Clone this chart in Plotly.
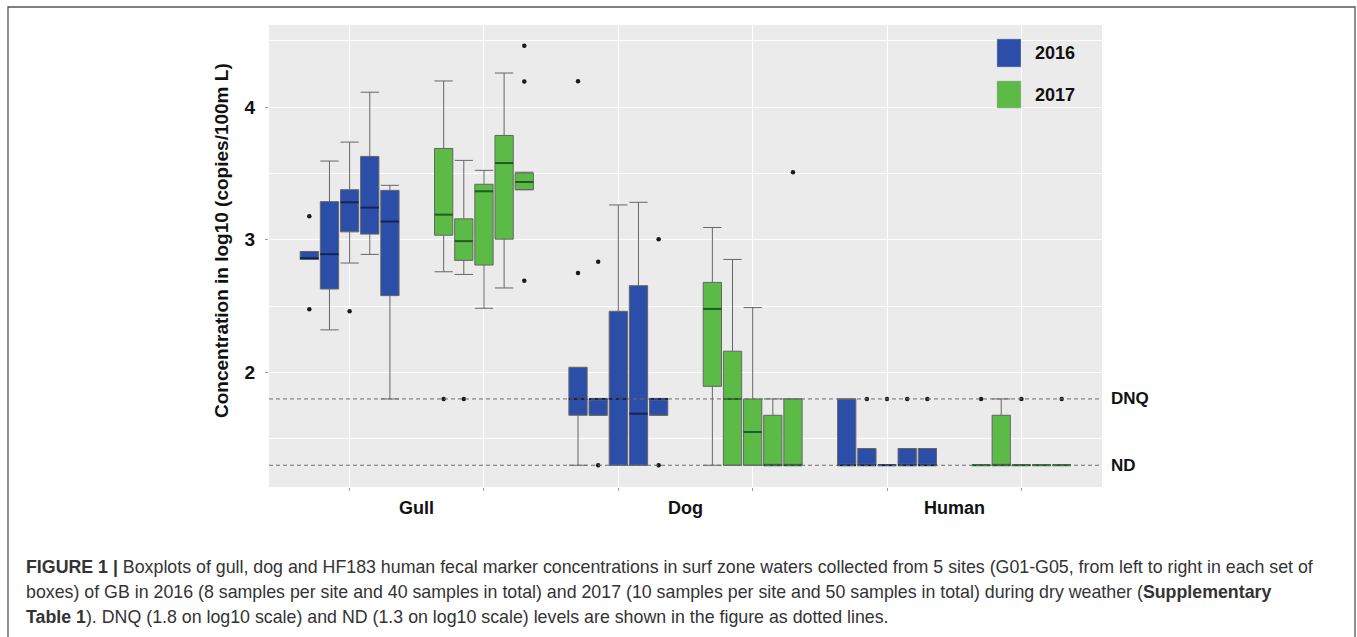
import plotly.graph_objects as go

# ---------------- data ----------------
markers = ["Gull", "Dog", "Human"]
years = ["2016", "2017"]
sites = ["G01", "G02", "G03", "G04", "G05"]

# order of 15 entries: Gull G01..G05, Dog G01..G05, Human G01..G05
lo_2016 = [2.852, 2.321, 2.825, 2.890, 1.800,
           1.300, 1.677, 1.300, 1.300, 1.677,
           1.300, 1.300, 1.300, 1.300, 1.300]
q1_2016 = [2.852, 2.629, 3.060, 3.043, 2.579,
           1.677, 1.677, 1.300, 1.300, 1.677,
           1.300, 1.300, 1.300, 1.300, 1.300]
med_2016 = [2.862, 2.892, 3.283, 3.243, 3.138,
            1.800, 1.800, 1.800, 1.689, 1.800,
            1.300, 1.300, 1.300, 1.300, 1.300]
q3_2016 = [2.912, 3.288, 3.378, 3.629, 3.373,
           2.038, 1.800, 2.461, 2.654, 1.800,
           1.800, 1.426, 1.300, 1.426, 1.426]
hi_2016 = [2.912, 3.594, 3.737, 4.113, 3.411,
           2.038, 1.800, 3.263, 3.283, 1.800,
           1.800, 1.426, 1.300, 1.426, 1.426]
out_2016_idx = [0, 0, 2, 5, 5, 6, 6, 9, 9, 11, 12, 13, 14]
out_2016_val = [3.178, 2.476, 2.461, 4.195, 2.749, 2.835, 1.300, 3.005, 1.300,
                1.800, 1.800, 1.800, 1.800]

lo_2017 = [2.759, 2.739, 2.484, 2.637, 3.378,
           1.300, 1.300, 1.300, 1.300, 1.300,
           1.300, 1.300, 1.300, 1.300, 1.300]
q1_2017 = [3.035, 2.845, 2.810, 3.005, 3.378,
           1.895, 1.300, 1.300, 1.300, 1.300,
           1.300, 1.300, 1.300, 1.300, 1.300]
med_2017 = [3.190, 2.990, 3.366, 3.579, 3.436,
            2.479, 1.800, 1.551, 1.300, 1.300,
            1.300, 1.300, 1.300, 1.300, 1.300]
q3_2017 = [3.689, 3.158, 3.419, 3.787, 3.504,
           2.679, 2.160, 1.800, 1.677, 1.800,
           1.300, 1.677, 1.300, 1.300, 1.300]
hi_2017 = [4.198, 3.599, 3.524, 4.258, 3.510,
           3.093, 2.852, 2.489, 1.800, 1.800,
           1.300, 1.800, 1.300, 1.300, 1.300]
out_2017_idx = [0, 1, 4, 4, 4, 9, 10, 12, 14]
out_2017_val = [1.800, 1.800, 4.464, 4.193, 2.692, 3.509, 1.800, 1.800, 1.800]

dnq_level = 1.8
nd_level = 1.3

caption_lines = [
    "<b>FIGURE 1 |</b> Boxplots of gull, dog and HF183 human fecal marker concentrations in surf zone waters collected from 5 sites (G01-G05, from left to right in each set of",
    "boxes) of GB in 2016 (8 samples per site and 40 samples in total) and 2017 (10 samples per site and 50 samples in total) during dry weather (<b>Supplementary</b>",
    "<b>Table 1</b>). DNQ (1.8 on log10 scale) and ND (1.3 on log10 scale) levels are shown in the figure as dotted lines.",
]

# ---------------- styling ----------------
W, H = 1357, 637
ML, MR, MT, MB = 269, 255, 25, 150
PW, PH = W - ML - MR, H - MT - MB
FONT = "Liberation Sans, Arial, sans-serif"
fill_col = {"2016": "#2B4FA8", "2017": "#5CBB46"}
med_col = {"2016": "#13245A", "2017": "#1E5E22"}
SITE_STEP = 0.15
BOX_W = 0.136


def px_x(px):
    return (px - ML) / PW


def px_y(py):
    return (H - MB - py) / PH


def position(k, year_idx):
    marker_idx, site_idx = divmod(k, len(sites))
    return marker_idx * 2 + year_idx + (site_idx - 2) * SITE_STEP


fig = go.Figure()

stats = {
    "2016": (lo_2016, q1_2016, med_2016, q3_2016, hi_2016, out_2016_idx, out_2016_val),
    "2017": (lo_2017, q1_2017, med_2017, q3_2017, hi_2017, out_2017_idx, out_2017_val),
}

for yi, yr in enumerate(years):
    lo, q1, med, q3, hi, oidx, oval = stats[yr]
    xs = [position(k, yi) for k in range(len(q1))]
    fig.add_trace(go.Box(
        x=xs, q1=q1, median=med, q3=q3, lowerfence=lo, upperfence=hi,
        width=BOX_W, whiskerwidth=1, boxpoints=False,
        fillcolor=fill_col[yr], line=dict(color="#666666", width=1),
        name=yr, showlegend=False, hoverinfo="skip",
    ))
    mx, my = [], []
    for x, m in zip(xs, med):
        mx += [x - BOX_W / 2, x + BOX_W / 2, None]
        my += [m, m, None]
    fig.add_trace(go.Scatter(
        x=mx, y=my, mode="lines", line=dict(color=med_col[yr], width=2),
        showlegend=False, hoverinfo="skip",
    ))
    fig.add_trace(go.Scatter(
        x=[position(k, yi) for k in oidx], y=oval, mode="markers",
        marker=dict(color="#1a1a1a", size=4.5),
        showlegend=False, hoverinfo="skip",
    ))

shapes = []
annotations = []
for lvl, lab in [(dnq_level, "DNQ"), (nd_level, "ND")]:
    shapes.append(dict(type="line", xref="paper", yref="y", x0=0, x1=1, y0=lvl, y1=lvl,
                       line=dict(color="#6e6e6e", width=1, dash="4px,3px"), layer="above"))
    annotations.append(dict(xref="paper", yref="y", x=px_x(1109), y=lvl, text="<b>%s</b>" % lab,
                            showarrow=False, xanchor="left", yanchor="middle",
                            font=dict(family=FONT, size=17, color="#111")))

# group labels
for mi, m in enumerate(markers):
    annotations.append(dict(xref="x", yref="paper", x=mi * 2 + 0.5, y=px_y(508), text="<b>%s</b>" % m,
                            showarrow=False, xanchor="center", yanchor="middle",
                            font=dict(family=FONT, size=18, color="#111")))

# y axis title
annotations.append(dict(xref="paper", yref="paper", x=px_x(221), y=px_y(241),
                        text="<b>Concentration in log10 (copies/100m L)</b>", textangle=-90,
                        showarrow=False, xanchor="center", yanchor="middle",
                        font=dict(family=FONT, size=19, color="#111")))

# legend (custom keys)
for yr, (top, bot) in zip(years, [(39, 67), (81, 108)]):
    shapes.append(dict(type="rect", xref="paper", yref="paper",
                       x0=px_x(997), x1=px_x(1021), y0=px_y(bot), y1=px_y(top),
                       fillcolor=fill_col[yr], line=dict(color="#b0b0b0", width=0.5)))
    annotations.append(dict(xref="paper", yref="paper", x=px_x(1033), y=px_y((top + bot) / 2),
                            text="<b>%s</b>" % yr, showarrow=False, xanchor="left", yanchor="middle",
                            font=dict(family=FONT, size=18, color="#111")))

# caption
for i, line in enumerate(caption_lines):
    annotations.append(dict(xref="paper", yref="paper", x=px_x(24), y=px_y(567 + i * 25),
                            text=line, showarrow=False, xanchor="left", yanchor="middle",
                            font=dict(family=FONT, size=17.8, color="#333333")))

# outer frame
shapes.append(dict(type="rect", xref="paper", yref="paper",
                   x0=px_x(8), x1=px_x(1355), y0=px_y(645), y1=px_y(7),
                   line=dict(color="#555", width=1.3), fillcolor="rgba(0,0,0,0)", layer="below"))

fig.update_layout(
    width=W, height=H,
    margin=dict(l=ML, r=MR, t=MT, b=MB, pad=0),
    paper_bgcolor="white", plot_bgcolor="#EBEBEB",
    font=dict(family=FONT, color="#111"),
    shapes=shapes, annotations=annotations,
    showlegend=False,
    xaxis=dict(range=[-0.6, 5.6], tickmode="array", tickvals=list(range(6)),
               ticktext=[""] * 6, ticks="outside", ticklen=3, tickcolor="#999",
               showgrid=True, gridcolor="white", gridwidth=1, zeroline=False, showline=False),
    yaxis=dict(range=[1.136, 4.62], tickmode="linear", tick0=0, dtick=1,
               ticks="outside", ticklen=3, tickcolor="#999", ticklabelstandoff=6,
               tickfont=dict(family=FONT, size=19, color="#111", weight="bold"),
               showgrid=True, gridcolor="white", gridwidth=1.2, zeroline=False, showline=False,
               minor=dict(dtick=0.5, tick0=0, showgrid=True, gridcolor="white", gridwidth=0.6)),
)

fig.write_html("out.html")
